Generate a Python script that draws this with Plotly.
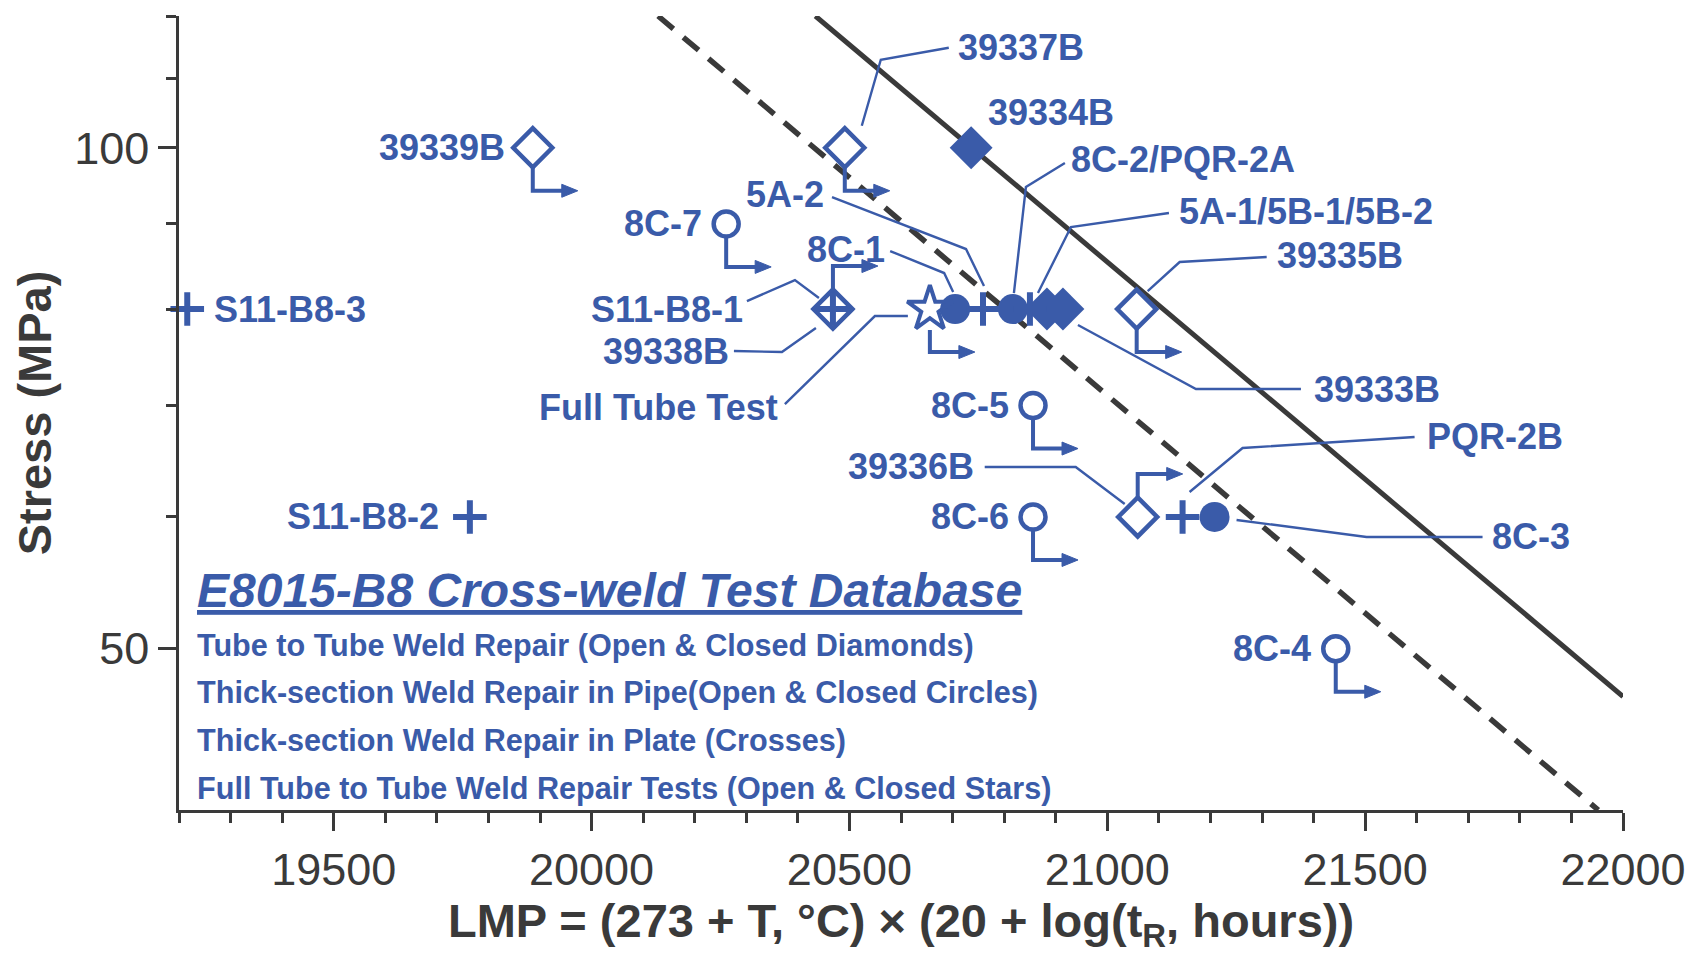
import numpy as np
import plotly.graph_objects as go

BLUE = "#3A5BA9"
DARK = "#3a3a3a"
FONT = "Liberation Sans, Arial, sans-serif"

# ---------------- data ----------------
# Tube-to-tube weld repair (diamonds)
tt_open_names = ["39339B", "39337B", "39338B", "39335B", "39336B"]
tt_open_lmp = [19886, 20491, 20468, 21057, 21059]
tt_open_stress = [100, 100, 80, 80, 60]

tt_closed_names = ["39334B", "5A-1/5B-1/5B-2", "39333B"]
tt_closed_lmp = [20736, 20883, 20914]
tt_closed_stress = [100, 80, 80]

# Thick-section weld repair in pipe (circles)
pipe_open_names = ["8C-7", "8C-5", "8C-6", "8C-4"]
pipe_open_lmp = [20261, 20856, 20856, 21443]
pipe_open_stress = [90, 70, 60, 50]

pipe_closed_names = ["8C-1", "8C-2", "8C-3"]
pipe_closed_lmp = [20705, 20817, 21208]
pipe_closed_stress = [80, 80, 60]

# Thick-section weld repair in plate (crosses)
plate_names = ["S11-B8-3", "S11-B8-1", "S11-B8-2", "5A-2", "PQR-2A", "PQR-2B"]
plate_lmp = [19216, 20468, 19764, 20759, 20850, 21146]
plate_stress = [80, 80, 60, 80, 80, 60]

# Full tube-to-tube weld repair test (star)
full_names = ["Full Tube Test"]
full_lmp = [20656]
full_stress = [80]

# Reference lines
solid_lmp = [20434, 22000]
solid_stress = [120, 46.8]
dashed_lmp = [20129, 21952]
dashed_stress = [120, 40]

x_ticks = [19500, 20000, 20500, 21000, 21500, 22000]
y_ticks = [50, 100]
y_minor = [60, 70, 80, 90, 110, 120]

legend_title = "E8015-B8 Cross-weld Test Database"
legend_lines = [
    "Tube to Tube Weld Repair (Open & Closed Diamonds)",
    "Thick-section Weld Repair in Pipe(Open & Closed Circles)",
    "Thick-section Weld Repair in Plate (Crosses)",
    "Full Tube to Tube Weld Repair Tests (Open & Closed Stars)",
]

# lookup of every point by name
points = {}
for names, xs, ys in [
    (tt_open_names, tt_open_lmp, tt_open_stress),
    (tt_closed_names, tt_closed_lmp, tt_closed_stress),
    (pipe_open_names, pipe_open_lmp, pipe_open_stress),
    (pipe_closed_names, pipe_closed_lmp, pipe_closed_stress),
    (plate_names, plate_lmp, plate_stress),
    (full_names, full_lmp, full_stress),
]:
    for n, x, y in zip(names, xs, ys):
        points[n] = (x, y)

# label layout: anchor point, text, xanchor, dx, dy(px, up +), leader polyline (px offsets)
labels = [
    ("S11-B8-3", "S11-B8-3", "left", 25, 0, None),
    ("39339B", "39339B", "right", -26, 0, None),
    ("39337B", "39337B", "left", 111, 100, [(17, 22), (36, 88), (104, 100)]),
    ("39334B", "39334B", "left", 15, 35, None),
    ("8C-7", "8C-7", "right", -22, 0, None),
    ("8C-2", "8C-2/PQR-2A", "left", 56, 150, [(1, 16), (13, 122), (52, 146)]),
    ("5A-1/5B-1/5B-2", "5A-1/5B-1/5B-2", "left", 130, 98, [(-9, 16), (24, 82), (122, 96)]),
    ("39335B", "39335B", "left", 138, 54, [(11, 18), (43, 47), (130, 52)]),
    ("39333B", "39333B", "left", 249, -80, [(15, -16), (133, -80), (238, -80)]),
    ("5A-2", "5A-2", "right", -157, 115, [(-151, 112), (-17, 60), (1, 23)]),
    ("8C-1", "8C-1", "right", -68, 60, [(-65, 58), (-11, 36), (-2, 17)]),
    ("S11-B8-1", "S11-B8-1", "right", -88, 0, [(-86, 8), (-38, 29), (-14, 11)]),
    ("39338B", "39338B", "right", -102, -42, [(-99, -42), (-51, -43), (-17, -19)]),
    ("Full Tube Test", "Full Tube Test", "right", -150, -98, [(-145, -95), (-55, -7), (-22, -7)]),
    ("8C-5", "8C-5", "right", -22, 0, None),
    ("39336B", "39336B", "right", -162, 50, [(-153, 50), (-62, 50), (-13, 13)]),
    ("8C-6", "8C-6", "right", -22, 0, None),
    ("PQR-2B", "PQR-2B", "left", 242, 80, [(7, 25), (60, 69), (232, 80)]),
    ("8C-3", "8C-3", "left", 275, -20, [(22, -3), (152, -20), (268, -20)]),
    ("8C-4", "8C-4", "right", -23, 0, None),
    ("S11-B8-2", "S11-B8-2", "right", -29, 0, None),
]

# runout arrows: name, direction (+1 up / -1 down), start offset (marker radius)
runouts = [
    ("39339B", -1, 20), ("39337B", -1, 20), ("39338B", 1, 20), ("39335B", -1, 20),
    ("39336B", 1, 20), ("8C-7", -1, 14), ("8C-5", -1, 14), ("8C-6", -1, 14),
    ("8C-4", -1, 14), ("Full Tube Test", -1, 21),
]

fig = go.Figure()

fig.add_trace(go.Scatter(x=dashed_lmp, y=dashed_stress, mode="lines",
                         line=dict(color=DARK, width=5.5, dash="20px,13px"), showlegend=False))
fig.add_trace(go.Scatter(x=solid_lmp, y=solid_stress, mode="lines",
                         line=dict(color=DARK, width=5), showlegend=False))

def add_markers(xs, ys, symbol, size, lw):
    fig.add_trace(go.Scatter(
        x=xs, y=ys, mode="markers", cliponaxis=False, showlegend=False,
        marker=dict(symbol=symbol, size=size, color=BLUE,
                    line=dict(color=BLUE, width=lw))))

add_markers(tt_open_lmp, tt_open_stress, "diamond-open", 30, 4.5)
add_markers(tt_closed_lmp, tt_closed_stress, "diamond", 33, 0)
add_markers(pipe_closed_lmp, pipe_closed_stress, "circle", 30, 0)
add_markers(pipe_open_lmp, pipe_open_stress, "circle-open", 25, 4.5)
add_markers(plate_lmp, plate_stress, "cross-thin", 24, 6)
add_markers(full_lmp, full_stress, "star-open", 34, 4)

shapes = []
annotations = []

def path_from(pts):
    return "M" + " L".join(f"{x},{y}" for x, y in pts)

for name, text, xa, dx, dy, leader in labels:
    x, y = points[name]
    annotations.append(dict(
        x=x, y=np.log10(y), xref="x", yref="y", text=text, showarrow=False,
        xanchor=xa, yanchor="middle", xshift=dx, yshift=dy,
        font=dict(family=FONT, size=36, color=BLUE, weight="bold")))
    if leader:
        shapes.append(dict(type="path", xref="x", yref="y", xsizemode="pixel",
                           ysizemode="pixel", xanchor=x, yanchor=y,
                           path=path_from(leader), line=dict(color=BLUE, width=2.4)))

L, W, HEAD, HW = 43, 45, 16, 6.5
for name, d, r0 in runouts:
    x, y = points[name]
    yl = d * L
    shapes.append(dict(type="path", xref="x", yref="y", xsizemode="pixel",
                       ysizemode="pixel", xanchor=x, yanchor=y,
                       path=path_from([(0, d * r0), (0, yl), (W - HEAD + 2, yl)]),
                       line=dict(color=BLUE, width=4)))
    shapes.append(dict(type="path", xref="x", yref="y", xsizemode="pixel",
                       ysizemode="pixel", xanchor=x, yanchor=y,
                       path=path_from([(W - HEAD, yl + HW), (W, yl), (W - HEAD, yl - HW)]) + " Z",
                       fillcolor=BLUE, line=dict(color=BLUE, width=1)))

# legend text block
PL, PT, PW, PH = 179, 16, 1444, 794
def px2paper(px, py):
    return (px - PL) / PW, (PT + PH - py) / PH

tx, ty = px2paper(195, 590)
annotations.append(dict(x=tx, y=ty, xref="paper", yref="paper", showarrow=False,
                        xanchor="left", yanchor="middle",
                        text=f"<b><i><u>{legend_title}</u></i></b>",
                        font=dict(family=FONT, size=48, color=BLUE)))
for i, line in enumerate(legend_lines):
    lx, ly = px2paper(195, 645 + i * 47.7)
    annotations.append(dict(x=lx, y=ly, xref="paper", yref="paper", showarrow=False,
                            xanchor="left", yanchor="middle", text=f"<b>{line}</b>",
                            font=dict(family=FONT, size=30.6, color=BLUE)))

fig.update_layout(
    width=1705, height=954,
    margin=dict(l=PL, r=1705 - PL - PW, t=PT, b=954 - PT - PH, autoexpand=False),
    paper_bgcolor="white", plot_bgcolor="white",
    shapes=shapes, annotations=annotations,
    showlegend=False,
)

fig.update_xaxes(
    range=[19200, 22000], tickvals=x_ticks, ticktext=[str(v) for v in x_ticks],
    showgrid=False, zeroline=False, showline=True, linecolor=DARK, linewidth=2.5,
    ticks="outside", ticklen=18, tickwidth=2.5, tickcolor=DARK,
    tickfont=dict(family=FONT, size=45, color=DARK),
    minor=dict(dtick=100, tick0=19200, ticks="outside", ticklen=10, tickwidth=2.5, tickcolor=DARK),
    title=dict(text="<b>LMP = (273 + T, °C) × (20 + log(t<sub>R</sub>, hours))</b>",
               font=dict(family=FONT, size=47, color=DARK), standoff=12),
)
fig.update_yaxes(
    type="log", range=[np.log10(40), np.log10(120)],
    tickvals=y_ticks, ticktext=[str(v) for v in y_ticks],
    showgrid=False, zeroline=False, showline=True, linecolor=DARK, linewidth=2.5,
    ticks="outside", ticklen=18, tickwidth=2.5, tickcolor=DARK,
    tickfont=dict(family=FONT, size=45, color=DARK),
    minor=dict(tickvals=y_minor, ticks="outside", ticklen=10, tickwidth=2.5, tickcolor=DARK),
    title=dict(text="<b>Stress (MPa)</b>", font=dict(family=FONT, size=47, color=DARK), standoff=8),
)

fig.write_html("out.html")
